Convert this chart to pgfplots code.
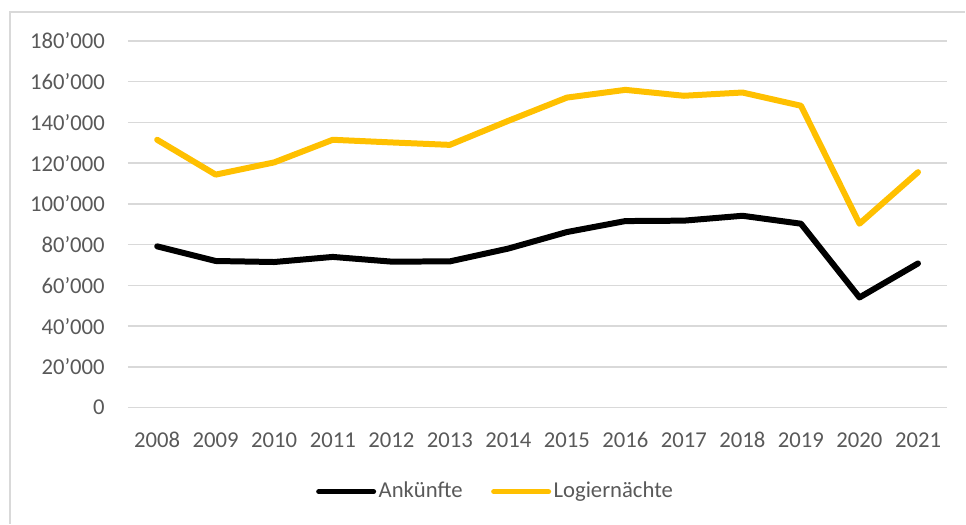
\documentclass[border=0pt]{standalone}
\usepackage{fontspec}
\setmainfont{Carlito}
\usepackage{pgfplots}
\pgfplotsset{compat=1.18}
\definecolor{gridgray}{HTML}{D9D9D9}
\definecolor{txtgray}{HTML}{595959}
\definecolor{gold}{HTML}{FFC000}
\begin{document}
\fontsize{22.7}{27}\selectfont
\begin{tikzpicture}[x=1pt,y=1pt]
\path (0,0) rectangle (966,524);
\draw[gridgray, line width=1.5pt] (10,0) -- (10,512) -- (966,512);
\begin{axis}[
 at={(128pt,116pt)}, anchor=south west,
 width=820pt, height=367pt, scale only axis,
 xmin=-0.5, xmax=13.5, ymin=0, ymax=180000,
 xtick={0,...,13},
 xticklabels={2008,2009,2010,2011,2012,2013,2014,2015,2016,2017,2018,2019,2020,2021},
 ytick={0,20000,...,180000},
 scaled y ticks=false,
 yticklabel={\pgfmathprintnumber[assume math mode=true,fixed,1000 sep={’}]{\tick}},
 ymajorgrids, grid style={gridgray, line width=1.5pt},
 axis line style={draw=none},
 major tick length=0pt,
 tick label style={font=\fontsize{22.7}{27}\selectfont, text=txtgray, inner sep=0pt},
 yticklabel style={anchor=east, xshift=-23pt},
 xticklabel style={anchor=base, yshift=-40pt},
 clip=false,
 legend columns=2,
 legend style={at={(0.449,-0.229)}, anchor=center, draw=none, fill=none,
   font=\fontsize{22.7}{27}\selectfont, text=txtgray,
   nodes={inner sep=2.5pt},
   /tikz/every even column/.append style={column sep=26pt}},
 legend image code/.code={\draw[#1, line width=5pt] (0pt,0pt) -- (55pt,0pt);},
]
\addplot[black, line width=6pt, line join=round, line cap=round] coordinates {
 (0,79200) (1,72000) (2,71500) (3,74000) (4,71700) (5,71800) (6,78100)
 (7,86200) (8,91600) (9,91800) (10,94200) (11,90300) (12,54100) (13,70800)};
\addlegendentry{Ankünfte}
\addplot[gold, line width=6pt, line join=round, line cap=round] coordinates {
 (0,131500) (1,114400) (2,120400) (3,131500) (4,130200) (5,129000) (6,140800)
 (7,152200) (8,156000) (9,153100) (10,154700) (11,148200) (12,90300) (13,115600)};
\addlegendentry{Logiernächte}
\end{axis}
\end{tikzpicture}
\end{document}
